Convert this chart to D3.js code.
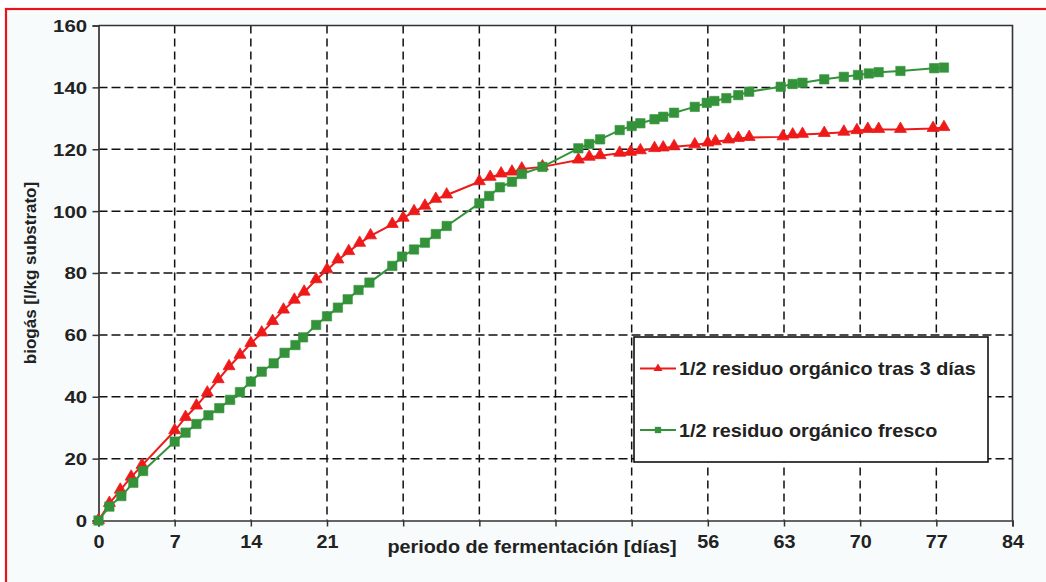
<!DOCTYPE html>
<html>
<head>
<meta charset="utf-8">
<script src="https://cdn.jsdelivr.net/npm/d3@7"></script>
<style>
  html, body { margin: 0; padding: 0; background: #ffffff; }
  svg { display: block; }
  text { font-family: "Liberation Sans", Arial, sans-serif; font-weight: bold; fill: #222; }
</style>
</head>
<body>
<svg id="chart" width="1046" height="582"></svg>
<script>
// ---- data ----
const xTicks = [0, 7, 14, 21, 28, 35, 42, 49, 56, 63, 70, 77, 84];
const xTickLabelsShown = [0, 7, 14, 21, 56, 63, 70, 77, 84];
const yTicks = [0, 20, 40, 60, 80, 100, 120, 140, 160];
const seriesNames = ["1/2 residuo orgánico tras 3 días", "1/2 residuo orgánico fresco"];
const xTitle = "periodo de fermentación [días]";
const yTitle = "biogás [l/kg substrato]";

const daysRed = [0,1,2,3,4,7,8,9,10,11,12,13,14,15,16,17,18,18.9,20,21,22,23,24,25,27,28,29,30,31,32,35,36,37,38,38.9,40.8,44.1,45.1,46.1,47.9,48.9,49.8,51.1,51.9,52.9,54.8,56,56.7,57.9,58.8,59.8,62.9,63.8,64.7,66.7,68.5,69.7,70.7,71.7,73.7,76.7,77.7];
const valuesRed = [0,5.5,9.8,14,17.8,29,33.3,37,41.2,45.5,49.7,53.4,57.2,60.6,64.3,68,71.2,73.8,77.8,81,84.2,86.9,89.6,92,95.7,97.7,99.8,101.6,103.8,105.2,109.5,110.9,112,112.6,113.6,114.3,116.5,117.4,117.9,118.7,119,119.5,120.2,120.4,120.8,121.4,122,122.4,123,123.5,123.8,124,124.6,124.8,125.1,125.5,126,126.4,126.4,126.4,126.7,127];

const daysGreen = [0,1,2.1,3.2,4.1,7,8,9,10.1,11.1,12.1,13,14,15,16.1,17.1,18.1,18.8,20,21,22,22.9,23.9,24.9,27,27.9,29,30,31,32,35,35.9,36.9,38,38.9,40.8,44.1,45.1,46.1,47.9,49,49.8,51.1,51.9,52.9,54.8,55.9,56.6,57.7,58.8,59.8,62.7,63.8,64.7,66.7,68.5,69.8,70.8,71.7,73.7,76.8,77.7];
const valuesGreen = [0,4.5,7.9,12.2,16,25.5,28.4,31.2,34,36.3,39,41.5,44.9,48.1,50.8,54.2,56.7,59.2,63.2,66,68.8,71.5,74.5,76.9,82.3,85.3,87.6,89.8,92.6,95.2,102.5,104.9,107.7,109.5,112,114.3,120.3,121.7,123.2,126.2,127.5,128.4,129.7,130.5,131.8,133.7,135,135.6,136.5,137.5,138.6,140.2,141.1,141.5,142.6,143.4,144,144.5,144.9,145.3,146.2,146.4];

const RED = "#ee1a1a";
const GREEN = "#34933a";

// ---- layout ----
const svg = d3.select("#chart");
const plot = { left: 98.5, right: 1012.5, top: 25.5, bottom: 520.5 };

// outer frame
svg.append("rect").attr("x", 0).attr("y", 0).attr("width", 1046).attr("height", 582).attr("fill", "#ffffff");
svg.append("rect").attr("x", 6).attr("y", 9).attr("width", 1100).attr("height", 600)
  .attr("fill", "#f7fbfb").attr("stroke", "#e8141c").attr("stroke-width", 2.2);

const x = d3.scaleLinear().domain([0, 84]).range([plot.left, plot.right]);
const y = d3.scaleLinear().domain([0, 160]).range([plot.bottom, plot.top]);

// plot background
svg.append("rect").attr("x", plot.left).attr("y", plot.top)
  .attr("width", plot.right - plot.left).attr("height", plot.bottom - plot.top)
  .attr("fill", "#ffffff");

// grid
const grid = svg.append("g").attr("stroke", "#111").attr("stroke-width", 1.5);
grid.selectAll("line.v").data(xTicks.filter(d => d > 0 && d < 84)).join("line")
  .attr("x1", d => x(d)).attr("x2", d => x(d))
  .attr("y1", plot.top).attr("y2", plot.bottom)
  .attr("stroke-dasharray", "8,5");
grid.selectAll("line.h").data(yTicks.filter(d => d > 0 && d < 160)).join("line")
  .attr("y1", d => y(d)).attr("y2", d => y(d))
  .attr("x1", plot.left).attr("x2", plot.right)
  .attr("stroke-dasharray", "9,4");

// frame (top & right)
svg.append("path")
  .attr("d", `M${plot.left},${plot.top}H${plot.right}V${plot.bottom}`)
  .attr("fill", "none").attr("stroke", "#333").attr("stroke-width", 1.6);

// axes
const xAxis = svg.append("g").attr("transform", `translate(0,${plot.bottom})`)
  .call(d3.axisBottom(x).tickValues(xTicks).tickSize(6).tickPadding(9)
    .tickFormat(d => xTickLabelsShown.includes(d) ? d : ""));
const yAxis = svg.append("g").attr("transform", `translate(${plot.left},0)`)
  .call(d3.axisLeft(y).tickValues(yTicks).tickSize(6).tickPadding(0));

[xAxis, yAxis].forEach(a => {
  a.select(".domain").attr("stroke", "#333").attr("stroke-width", 1.7);
  a.selectAll(".tick line").attr("stroke", "#333").attr("stroke-width", 1.5);
});
xAxis.selectAll(".tick text")
  .attr("font-size", 18).attr("fill", "#222")
  .attr("transform", "scale(1.1,1)");
yAxis.selectAll(".tick text")
  .attr("font-size", 17).attr("fill", "#222")
  .attr("x", -9.5).attr("dy", "0.35em")
  .attr("transform", "scale(1.2,1)");

// axis titles
svg.append("text").attr("text-anchor", "middle")
  .attr("transform", `translate(532,552.5) scale(1.1,1)`)
  .attr("font-size", 18).text(xTitle);
svg.append("text").attr("text-anchor", "middle")
  .attr("transform", `translate(35.5,273) rotate(-90)`)
  .attr("font-size", 17).text(yTitle);

// series
const redData = daysRed.map((d, i) => [d, valuesRed[i]]);
const greenData = daysGreen.map((d, i) => [d, valuesGreen[i]]);
const line = d3.line().x(d => x(d[0])).y(d => y(d[1]));

const tri = d3.symbol().type(d3.symbolTriangle).size(62);
const sq = d3.symbol().type(d3.symbolSquare).size(88);

svg.append("path").datum(redData).attr("d", line)
  .attr("fill", "none").attr("stroke", RED).attr("stroke-width", 2);
svg.append("g").selectAll("path").data(redData).join("path")
  .attr("d", tri).attr("transform", d => `translate(${x(d[0])},${y(d[1]) - 0.5})`)
  .attr("fill", RED).attr("stroke", RED).attr("stroke-width", 0.8);

svg.append("path").datum(greenData).attr("d", line)
  .attr("fill", "none").attr("stroke", GREEN).attr("stroke-width", 2);
svg.append("g").selectAll("path").data(greenData).join("path")
  .attr("d", sq).attr("transform", d => `translate(${x(d[0])},${y(d[1])})`)
  .attr("fill", GREEN).attr("stroke", GREEN).attr("stroke-width", 0.6);

// legend
const lg = svg.append("g");
lg.append("rect").attr("x", 634).attr("y", 337).attr("width", 354).attr("height", 125)
  .attr("fill", "#ffffff").attr("stroke", "#111").attr("stroke-width", 1.6);
const legendItems = [
  { name: seriesNames[0], color: RED, sym: d3.symbol().type(d3.symbolTriangle).size(34), ly: 368.5 },
  { name: seriesNames[1], color: GREEN, sym: d3.symbol().type(d3.symbolSquare).size(40), ly: 430 }
];
legendItems.forEach(it => {
  lg.append("line").attr("x1", 640).attr("x2", 676).attr("y1", it.ly).attr("y2", it.ly)
    .attr("stroke", it.color).attr("stroke-width", 2.2);
  lg.append("path").attr("d", it.sym).attr("transform", `translate(658,${it.ly})`)
    .attr("fill", it.color);
  lg.append("text").attr("transform", `translate(679,${it.ly + 6.5}) scale(1.1,1)`)
    .attr("font-size", 18).text(it.name);
});
</script>
</body>
</html>
